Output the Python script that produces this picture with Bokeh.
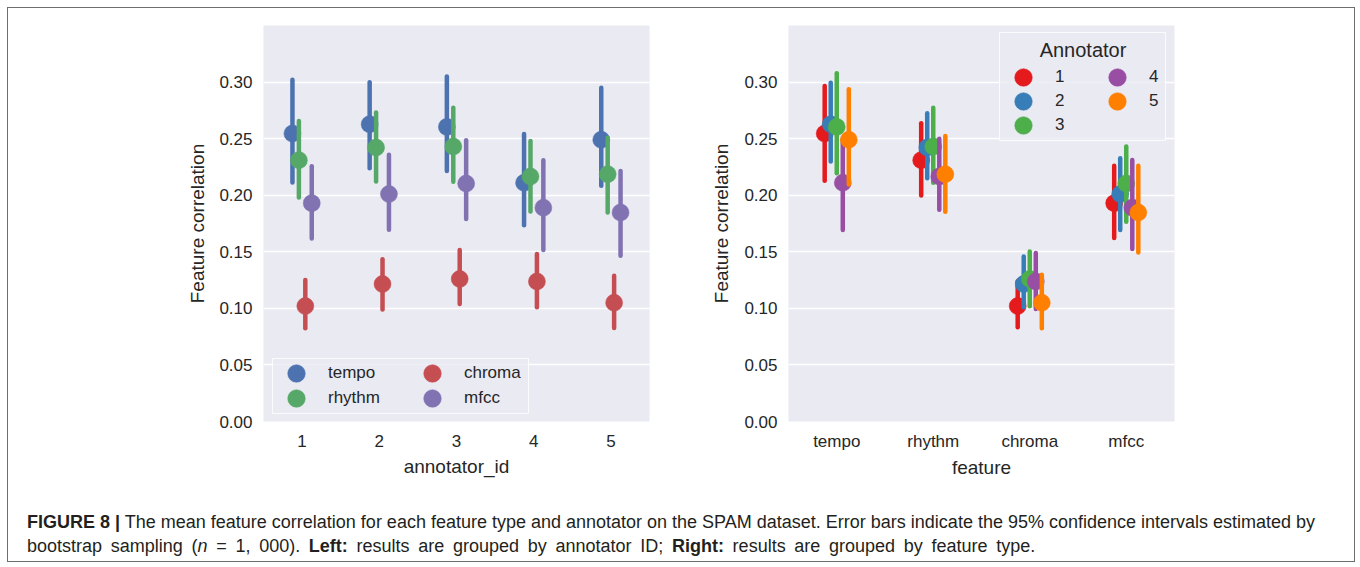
from bokeh.plotting import figure
from bokeh.models import (ColumnDataSource, FactorRange, Range1d, Legend, LegendItem,
                          Div, NumeralTickFormatter, FixedTicker, Label, BoxAnnotation)
from bokeh.transform import dodge
from bokeh.layouts import row, column
from bokeh.embed import file_html
from bokeh.resources import INLINE

# ---------------- data ----------------
annotators = ["1", "2", "3", "4", "5"]
features = ["tempo", "rhythm", "chroma", "mfcc"]
y_ticks = [0.00, 0.05, 0.10, 0.15, 0.20, 0.25, 0.30]

# mean feature correlation per annotator (1..5)
mean_tempo = [0.2545, 0.2627, 0.2604, 0.2110, 0.2490]
mean_rhythm = [0.2310, 0.2421, 0.2430, 0.2165, 0.2186]
mean_chroma = [0.1020, 0.1215, 0.1260, 0.1238, 0.1050]
mean_mfcc = [0.1930, 0.2010, 0.2103, 0.1890, 0.1847]

# 95% CI, left panel (grouped by annotator)
lo_tempo_l = [0.2113, 0.2239, 0.2215, 0.1735, 0.2083]
hi_tempo_l = [0.3020, 0.2998, 0.3050, 0.2540, 0.2950]
lo_rhythm_l = [0.1980, 0.2121, 0.2120, 0.1856, 0.1847]
hi_rhythm_l = [0.2657, 0.2730, 0.2774, 0.2480, 0.2507]
lo_chroma_l = [0.0824, 0.0991, 0.1039, 0.1009, 0.0827]
hi_chroma_l = [0.1250, 0.1433, 0.1515, 0.1480, 0.1289]
lo_mfcc_l = [0.1618, 0.1695, 0.1790, 0.1515, 0.1465]
hi_mfcc_l = [0.2257, 0.2357, 0.2486, 0.2310, 0.2215]

# 95% CI, right panel (grouped by feature; separate bootstrap)
lo_tempo_r = [0.2127, 0.2297, 0.2195, 0.1692, 0.2095]
hi_tempo_r = [0.2966, 0.2995, 0.3077, 0.2500, 0.2936]
lo_rhythm_r = [0.1998, 0.2149, 0.2110, 0.1871, 0.1853]
hi_rhythm_r = [0.2636, 0.2724, 0.2774, 0.2500, 0.2524]
lo_chroma_r = [0.0833, 0.1009, 0.1018, 0.0995, 0.0824]
hi_chroma_r = [0.1240, 0.1459, 0.1503, 0.1489, 0.1297]
lo_mfcc_r = [0.1621, 0.1692, 0.1765, 0.1524, 0.1494]
hi_mfcc_r = [0.2260, 0.2327, 0.2430, 0.2312, 0.2260]

feature_colors = ["#4C72B0", "#55A868", "#C44E52", "#8172B2"]
annotator_colors = ["#E41A1C", "#377EB8", "#4DAF4A", "#984EA3", "#FF7F00"]

means = {"tempo": mean_tempo, "rhythm": mean_rhythm, "chroma": mean_chroma, "mfcc": mean_mfcc}
ci_left = {"tempo": (lo_tempo_l, hi_tempo_l), "rhythm": (lo_rhythm_l, hi_rhythm_l),
           "chroma": (lo_chroma_l, hi_chroma_l), "mfcc": (lo_mfcc_l, hi_mfcc_l)}
ci_right = {"tempo": (lo_tempo_r, hi_tempo_r), "rhythm": (lo_rhythm_r, hi_rhythm_r),
            "chroma": (lo_chroma_r, hi_chroma_r), "mfcc": (lo_mfcc_r, hi_mfcc_r)}

FONT = "Liberation Sans"
TXT = "#262626"
BG = "#EAEAF2"
MARK = 17
LW = 4.5


def style(p, xlabel):
    p.background_fill_color = BG
    p.border_fill_color = "white"
    p.outline_line_color = None
    p.xgrid.visible = False
    p.ygrid.grid_line_color = "white"
    p.ygrid.grid_line_width = 1.6
    p.yaxis.ticker = FixedTicker(ticks=y_ticks)
    p.yaxis.formatter = NumeralTickFormatter(format="0.00")
    for ax in (p.xaxis[0], p.yaxis[0]):
        ax.axis_line_color = None
        ax.major_tick_line_color = None
        ax.minor_tick_line_color = None
        ax.major_tick_out = 0
        ax.major_tick_in = 0
        ax.minor_tick_out = 0
        ax.minor_tick_in = 0
        ax.major_label_text_font = FONT
        ax.major_label_text_font_size = "17px"
        ax.major_label_text_color = TXT
        ax.axis_label_text_font = FONT
        ax.axis_label_text_font_size = "19px"
        ax.axis_label_text_font_style = "normal"
        ax.axis_label_text_color = TXT
    p.yaxis.axis_label = "Feature correlation"
    p.xaxis.axis_label = xlabel
    p.yaxis.major_label_standoff = 11
    p.yaxis.axis_label_standoff = 8
    p.xaxis.major_label_standoff = 13
    p.xaxis.axis_label_standoff = 6


def legend_box(p, left, right, bottom, top):
    # legend frame in frame pixels, drawn over the grid and under the marks
    p.add_layout(BoxAnnotation(left=left, right=right, bottom=bottom, top=top,
                               left_units="screen", right_units="screen",
                               bottom_units="screen", top_units="screen",
                               fill_color=BG, fill_alpha=0.8, line_color="white", line_alpha=0.8,
                               line_width=1, level="underlay"))


# ---------------- left panel ----------------
p1 = figure(width=700, height=480, x_range=FactorRange(*annotators), y_range=Range1d(0, 0.35),
            output_backend="svg", toolbar_location=None,
            min_border_left=255, min_border_right=59, min_border_top=17, min_border_bottom=67)
style(p1, "annotator_id")
legend_box(p1, 9, 265, 8, 63)

off4 = [-0.125, -0.125 / 3, 0.125 / 3, 0.125]
items1 = []
for i, f in enumerate(features):
    lo, hi = ci_left[f]
    src = ColumnDataSource(dict(x=annotators, m=means[f], lo=lo, hi=hi))
    xd = dodge("x", off4[i], range=p1.x_range)
    p1.segment(x0=xd, y0="lo", x1=xd, y1="hi", source=src, line_color=feature_colors[i],
               line_width=LW, line_cap="round")
    r = p1.ellipse(x=xd, y="m", width=MARK, height=MARK, width_units="screen", height_units="screen",
                   source=src, fill_color=feature_colors[i], line_color=feature_colors[i], line_width=0.5)
    items1.append(LegendItem(label=f, renderers=[r]))

leg1 = Legend(items=items1, location=(13, 12), ncols=2, margin=0, padding=4, spacing=3,
              glyph_width=40, glyph_height=22, label_standoff=12, label_width=81, label_height=22,
              label_text_font=FONT, label_text_font_size="17px", label_text_color=TXT,
              background_fill_alpha=0, border_line_color=None)
p1.add_layout(leg1)

# ---------------- right panel ----------------
p2 = figure(width=644, height=480, x_range=FactorRange(*features), y_range=Range1d(0, 0.35),
            output_backend="svg", toolbar_location=None,
            min_border_left=80, min_border_right=178, min_border_top=17, min_border_bottom=67)
style(p2, "feature")
p2.yaxis.axis_label_standoff = 9
p2.xaxis.major_label_standoff = 10
p2.xaxis.axis_label_standoff = 3
legend_box(p2, 211, 377, 281, 389)

off5 = [-0.125, -0.0625, 0.0, 0.0625, 0.125]
items2 = []
for j, a in enumerate(annotators):
    src = ColumnDataSource(dict(
        x=features,
        m=[means[f][j] for f in features],
        lo=[ci_right[f][0][j] for f in features],
        hi=[ci_right[f][1][j] for f in features],
    ))
    xd = dodge("x", off5[j], range=p2.x_range)
    p2.segment(x0=xd, y0="lo", x1=xd, y1="hi", source=src, line_color=annotator_colors[j],
               line_width=LW, line_cap="round")
    r = p2.ellipse(x=xd, y="m", width=MARK, height=MARK, width_units="screen", height_units="screen",
                   source=src, fill_color=annotator_colors[j], line_color=annotator_colors[j], line_width=0.5)
    items2.append(LegendItem(label=a, renderers=[r]))

# transparent legend (items only); blank title keeps room for the centred title label
leg2 = Legend(items=items2, location=(215, 285), ncols=2, margin=0, padding=6, spacing=2,
              title=" ", title_text_font=FONT, title_text_font_size="20px",
              title_text_font_style="normal", title_text_color=TXT, title_standoff=3,
              glyph_width=40, glyph_height=22, label_standoff=12, label_width=40, label_height=22,
              label_text_font=FONT, label_text_font_size="17px", label_text_color=TXT,
              background_fill_alpha=0, border_line_color=None)
p2.add_layout(leg2)
legend_title = Label(x=294.5, y=372, x_units="screen", y_units="screen", text="Annotator",
                     text_align="center", text_baseline="middle", text_font=FONT,
                     text_font_size="20px", text_color=TXT)
p2.add_layout(legend_title)

# ---------------- caption ----------------
caption_html = (
    '<div style="padding:17px 0 0 14px; font-family:\'Liberation Sans\',Arial,sans-serif; '
    'font-size:18px; line-height:24px; color:#231F20; white-space:nowrap;">'
    '<b>FIGURE 8 |</b> The mean feature correlation for each feature type and annotator on the SPAM '
    'dataset. Error bars indicate the 95% confidence intervals estimated by<br>'
    '<span style="word-spacing:3.7px;">bootstrap sampling (<i>n</i> = 1, 000). <b>Left:</b> results are '
    'grouped by annotator ID; <b>Right:</b> results are grouped by feature type.</span></div>'
)
caption = Div(text=caption_html, width=1344, height=71)

layout = column(row(p1, p2), caption,
                styles={"border": "1px solid #6e6e6e", "margin-left": "7px", "margin-top": "7px",
                        "width": "1348px", "height": "555px", "box-sizing": "border-box"})

open("out.html", "w").write(file_html(layout, INLINE))
